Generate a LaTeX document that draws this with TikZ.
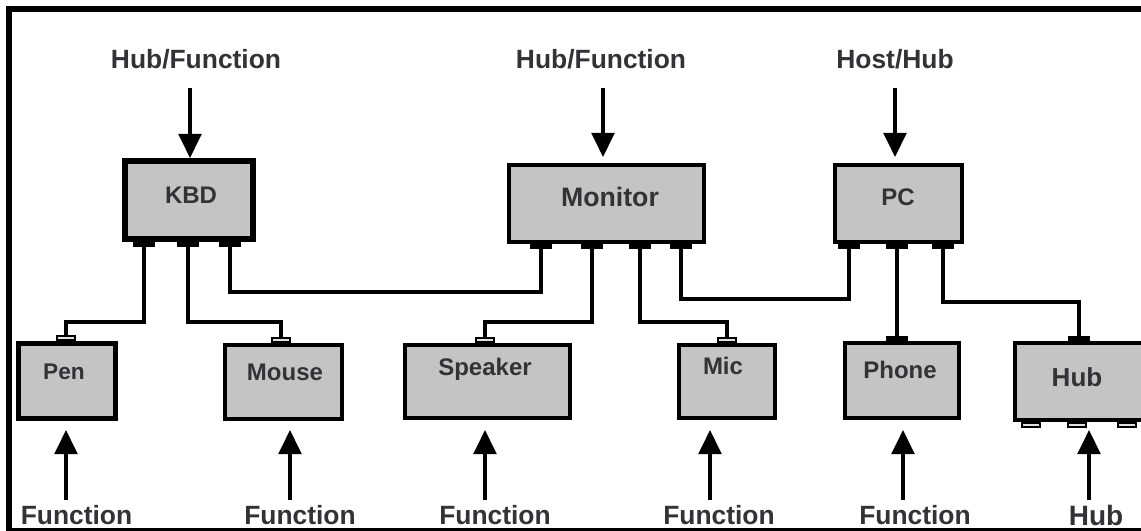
\documentclass[tikz,border=0pt]{standalone}
\usepackage{fontspec}
\setmainfont{Liberation Sans}
\usetikzlibrary{arrows.meta}
\definecolor{boxgrey}{RGB}{196,196,196}
\definecolor{txt}{RGB}{50,50,55}
\tikzset{
  x=0.75pt,y=-0.75pt,
  box/.style={draw=black,line width=3pt,fill=boxgrey,inner sep=0pt,anchor=north west},
  thickbox/.style={box,line width=4.4pt},
  lab/.style={inner sep=0pt,text=txt,font=\fontsize{18}{20}\selectfont\bfseries},
  outlab/.style={lab,font=\fontsize{19.8}{22}\selectfont\bfseries},
  porton/.style={draw=black,fill=black,line width=0.8pt,minimum width=15pt,minimum height=3.2pt,inner sep=0pt},
  portoff/.style={draw=black,fill=boxgrey!50,line width=1.6pt,minimum width=13pt,minimum height=3.6pt,inner sep=0pt},
  wire/.style={line width=2.5pt,line join=miter},
  flow/.style={line width=2.5pt,-{Triangle[length=18pt,width=17pt]}}
}
\begin{document}
\begin{tikzpicture}
\useasboundingbox (0,0) rectangle (1141,531);
\fill[white] (0,0) rectangle (1141,531);
% frame
\fill[black] (6,6) rectangle (1141,12);
\fill[black] (6,6) rectangle (11.5,531);
\fill[black] (6,528) rectangle (1141,531);

% ports
\node[porton] (k1) at (144,244) {};
\node[porton] (k2) at (188,244) {};
\node[porton] (k3) at (230,244) {};
\node[porton] (m1) at (541,246) {};
\node[porton] (m2) at (592,246) {};
\node[porton] (m3) at (640,246) {};
\node[porton] (m4) at (681,246) {};
\node[porton] (c1) at (849,246) {};
\node[porton] (c2) at (897,246) {};
\node[porton] (c3) at (943,246) {};
\node[portoff] (pp) at (66,338) {};
\node[portoff] (mp) at (281,340) {};
\node[portoff] (sp) at (485,340) {};
\node[portoff] (ip) at (727,340) {};
\node[porton] (fp) at (897,339) {};
\node[porton] (hp) at (1079,339) {};
\node[portoff] (h1) at (1031,425) {};
\node[portoff] (h2) at (1077,425) {};
\node[portoff] (h3) at (1127,425) {};

% boxes
\node[thickbox,minimum width=96.1pt,minimum height=58.6pt] (kbd) at (122,158) {};
\node[box,minimum width=146.25pt,minimum height=57.75pt] (mon) at (507,163) {};
\node[box,minimum width=95.25pt,minimum height=57.75pt] (pc) at (833,163) {};
\node[box,line width=3.6pt,minimum width=72.9pt,minimum height=56.4pt] (pen) at (16,341) {};
\node[box,minimum width=87.75pt,minimum height=55.5pt] (mouse) at (223,343) {};
\node[box,minimum width=123.75pt,minimum height=54.75pt] (spk) at (403,343) {};
\node[box,minimum width=72pt,minimum height=54.75pt] (mic) at (677,343) {};
\node[box,minimum width=85.5pt,minimum height=56.25pt] (phone) at (843,341) {};
\node[box,minimum width=102pt,minimum height=57.75pt] (hub) at (1013,341) {};

% box texts
\node[lab] (tk) at (191,195) {KBD};
\node[lab,font=\fontsize{20}{22}\selectfont\bfseries] (tm) at (610,197) {Monitor};
\node[lab] (tc) at (898,197) {PC};
\node[lab,font=\fontsize{17}{20}\selectfont\bfseries] (tp) at (64,372) {Pen};
\node[lab] (tmo) at (285,372) {Mouse};
\node[lab] (ts) at (485,369) {Speaker};
\node[lab] (ti) at (723,366) {Mic};
\node[lab] (tf) at (900,370) {Phone};
\node[lab,font=\fontsize{19.5}{22}\selectfont\bfseries] (th) at (1077,377) {Hub};

% outer labels
\node[outlab] (l1) at (196,59) {Hub/Function};
\node[outlab] (l2) at (601,59) {Hub/Function};
\node[outlab] (l3) at (895,59) {Host/Hub};
\node[outlab] (b1) at (76.5,515.5) {Function};
\node[outlab] (b2) at (300,515.5) {Function};
\node[outlab] (b3) at (495,515.5) {Function};
\node[outlab] (b4) at (719,515.5) {Function};
\node[outlab] (b5) at (915,515.5) {Function};
\node[outlab,font=\fontsize{21}{22}\selectfont\bfseries] (b6) at (1096,515.5) {Hub};

% arrow ends
\coordinate (a1s) at (190,88);   \coordinate (a1e) at (190,158);
\coordinate (a2s) at (603,88);   \coordinate (a2e) at (603,157);
\coordinate (a3s) at (895,88);   \coordinate (a3e) at (895,157);
\coordinate (a4s) at (66,500);   \coordinate (a4e) at (66,430);
\coordinate (a5s) at (290,500);  \coordinate (a5e) at (290,430);
\coordinate (a6s) at (485,500);  \coordinate (a6e) at (485,430);
\coordinate (a7s) at (710,500);  \coordinate (a7e) at (710,430);
\coordinate (a8s) at (903,500);  \coordinate (a8e) at (903,430);
\coordinate (a9s) at (1089,500); \coordinate (a9e) at (1089,430);
\foreach \n in {1,...,9} \draw[flow] (a\n s) -- (a\n e);

% wires
\draw[wire] (k1.south) -- (144,322) -- (66,322) -- (pp.north);
\draw[wire] (k2.south) -- (188,322) -- (281,322) -- (mp.north);
\draw[wire] (k3.south) -- (230,292) -- (541,292) -- (m1.south);
\draw[wire] (m2.south) -- (592,322) -- (485,322) -- (sp.north);
\draw[wire] (m3.south) -- (640,322) -- (727,322) -- (ip.north);
\draw[wire] (m4.south) -- (681,299) -- (849,299) -- (c1.south);
\draw[wire] (c2.south) -- (fp.north);
\draw[wire] (c3.south) -- (943,302) -- (1079,302) -- (hp.north);
\end{tikzpicture}
\end{document}
